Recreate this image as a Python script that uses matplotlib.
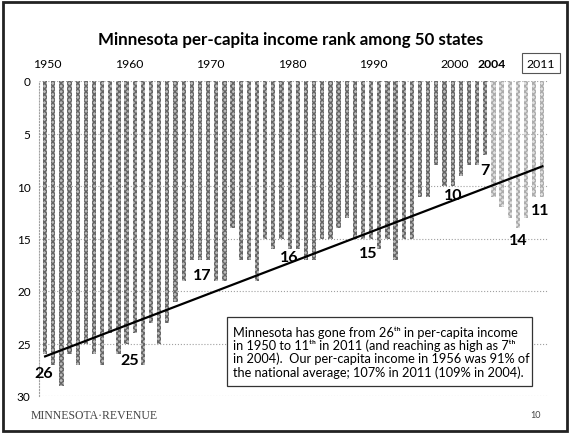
import matplotlib
matplotlib.use("Agg")
import matplotlib.pyplot as plt
import numpy as np
from matplotlib.patches import Rectangle
from matplotlib.transforms import blended_transform_factory

plt.rcParams['font.family'] = ['Lato', 'DejaVu Sans']

# Minnesota per-capita income rank, 1950-2011
years = list(range(1950, 2012))
ranks = [26, 27, 29, 26, 27, 25, 26, 27, 24, 26,   # 1950s
         25, 24, 27, 23, 25, 23, 21, 19, 17, 17,   # 1960s
         17, 19, 19, 14, 17, 17, 19, 15, 16, 15,   # 1970s
         16, 16, 17, 17, 15, 15, 14, 13, 15, 15,   # 1980s
         15, 16, 15, 17, 15, 15, 11, 11, 8, 10,    # 1990s
         10, 9, 8, 8, 7, 11, 12, 13, 14, 13,       # 2000s
         11, 11]                                   # 2010-2011

top_years = [1950, 1960, 1970, 1980, 1990, 2000, 2004, 2011]
callout_text = ["26", "25", "17", "16", "15", "10", "7", "14", "11"]
callout_pos = [(1949.8, 27.8), (1960.4, 26.6), (1969.3, 18.5), (1979.9, 16.8),
               (1989.7, 16.4), (2000.1, 10.9), (2004.0, 8.5), (2008.0, 15.1),
               (2010.8, 12.3)]

note = ("Minnesota has gone from 26\u1d57\u02b0 in per-capita income\n"
        "in 1950 to 11\u1d57\u02b0 in 2011 (and reaching as high as 7\u1d57\u02b0\n"
        "in 2004).  Our per-capita income in 1956 was 91% of\n"
        "the national average; 107% in 2011 (109% in 2004).")

W, H = 570, 435
fig = plt.figure(figsize=(W / 100, H / 100), dpi=100)
fig.patch.set_facecolor('white')

# slide frame
fig.add_artist(Rectangle((0.006, 0.006), 0.988, 0.988, transform=fig.transFigure,
                         fill=False, lw=2.0, ec='#222222'))

ax = fig.add_axes([39 / W, 1 - 397 / H, (548 - 39) / W, (397 - 82) / H])
ax.set_xlim(1949.25, 2011.7)
ax.set_ylim(30, 0)

dark = [y <= 2004 for y in years]
colors = ['#bcbcbc' if d else '#e2e2e2' for d in dark]
hatch_cols = ['#666666' if d else '#acacac' for d in dark]
for y, r, c, hc in zip(years, ranks, colors, hatch_cols):
    ax.bar(y, r, width=0.52, color=c, edgecolor=hc, hatch='xxxxxx', linewidth=0, zorder=2)

# linear trend of the rank series
coef = np.polyfit(years, ranks, 1)
tx = np.array([years[0], years[-1]])
ax.plot(tx, np.polyval(coef, tx), color='black', lw=1.6, zorder=3)

for (x, y), t in zip(callout_pos, callout_text):
    ax.text(x, y, t, ha='center', va='center', fontsize=11.5, fontweight='bold', zorder=4)

# grid and axes styling
ax.set_yticks(range(0, 31, 5))
ax.yaxis.grid(True, linestyle=':', color='#a0a0a0', lw=0.8, zorder=0)
ax.set_xticks([])
for s in ['top', 'right', 'bottom']:
    ax.spines[s].set_visible(False)
ax.spines['left'].set_linestyle(':')
ax.spines['left'].set_color('#a0a0a0')
ax.spines['left'].set_linewidth(0.8)
ax.tick_params(axis='y', length=0, pad=6, labelsize=8.5)

# year labels along the top
trans = blended_transform_factory(ax.transData, ax.transAxes)
ytop = 1 + 18 / 315
for yr in top_years:
    kw = dict(ha='center', va='center', fontsize=8.8, transform=trans)
    if yr == 2004:
        ax.text(yr + 0.8, ytop, str(yr), fontweight='bold', **kw)
    elif yr == 2011:
        ax.text(yr - 0.2, ytop, str(yr), bbox=dict(boxstyle='square,pad=0.4',
                fc='white', ec='#555555', lw=0.8), **kw)
    else:
        ax.text(yr + 0.3, ytop, str(yr), **kw)

fig.text(0.51, 1 - 40 / H, 'Minnesota per-capita income rank among 50 states',
         ha='center', va='center', fontsize=12.2, fontweight='bold')

fig.add_artist(Rectangle((227 / W, 1 - 387 / H), (532 - 227) / W, (387 - 318) / H,
                         transform=fig.transFigure, fc='white', ec='#333333', lw=0.9, zorder=5))
fig.text(233 / W, 1 - 352.5 / H, note, ha='left', va='center', fontsize=9.2,
         linespacing=1.08, zorder=6)

fig.text(31 / W, 1 - 416 / H, 'MINNESOTA\u00b7REVENUE', ha='left', va='center',
         fontsize=8.5, family='Liberation Serif', color='#444444')
fig.text(536 / W, 1 - 416 / H, '10', ha='center', va='center', fontsize=6.5, color='#444444')

fig.savefig('out.png', dpi=100)
